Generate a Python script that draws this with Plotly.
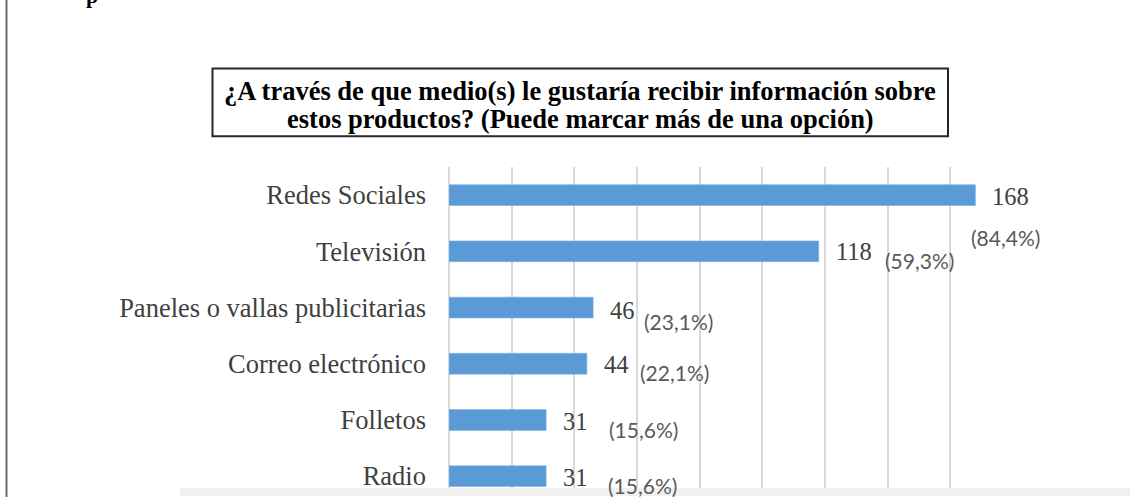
import plotly.graph_objects as go

# ---------------- data ----------------
categories = ["Redes Sociales", "Televisión", "Paneles o vallas publicitarias",
              "Correo electrónico", "Folletos", "Radio"]
values = [168, 118, 46, 44, 31, 31]
percents = [84.4, 59.3, 23.1, 22.1, 15.6, 15.6]
title_lines = ["¿A través de que medio(s) le gustaría recibir información sobre",
               "estos productos? (Puede marcar más de una opción)"]

# label placement tweaks (pixel offsets, style only)
pct_dx = [30, 101, 85, 88, 97, 96]
pct_dy = [-42, -9, -14, -9, -10, -9]
val_dy = [-1, 0, -3, -1, -2, -1]

# ---------------- layout geometry ----------------
W, H = 1130, 497
L, R, T, B = 449, 117, 166.6, 6
pw, ph = W - L - R, H - T - B


def px_x(p):
    return (p - L) / pw


def px_y(p):
    return (H - B - p) / ph


BAR = "#5b9bd5"
GRID = "#d9d9d9"
TXT = "#404040"
SERIF = "Liberation Serif, Times New Roman, serif"

fig = go.Figure(go.Bar(
    x=values, y=categories, orientation="h",
    marker=dict(color=BAR, line=dict(color="#7fb2e0", width=0.6)),
    hoverinfo="skip",
))

annotations = []
for i, (c, v, p) in enumerate(zip(categories, values, percents)):
    annotations.append(dict(
        x=v, y=c, xref="x", yref="y", text=str(v), showarrow=False,
        xanchor="left", yanchor="middle", xshift=15, yshift=val_dy[i],
        font=dict(family=SERIF, size=24.5, color=TXT)))
    annotations.append(dict(
        x=v, y=c, xref="x", yref="y",
        text="(" + f"{p:.1f}".replace(".", ",") + "%)", showarrow=False,
        xanchor="center", yanchor="middle", xshift=pct_dx[i], yshift=pct_dy[i],
        font=dict(family="Lato, sans-serif", size=21, color="#595959")))

# boxed title: two lines of text inside a framed rectangle
for line, cy in zip(title_lines, [90, 118]):
    annotations.append(dict(
        x=px_x(580.25), y=px_y(cy), xref="paper", yref="paper",
        text=line, showarrow=False, xanchor="center", yanchor="middle",
        font=dict(family=SERIF, size=26.5, color="#000000", weight="bold")))

# clipped heading letter at top-left of the page
annotations.append(dict(
    x=px_x(92), y=px_y(8), xref="paper", yref="paper", text="p",
    showarrow=False, xanchor="center", yanchor="bottom",
    font=dict(family=SERIF, size=22, color="#000000", weight="bold")))

shapes = [
    # title frame
    dict(type="rect", xref="paper", yref="paper",
         x0=px_x(212.5), x1=px_x(948), y0=px_y(135.5), y1=px_y(67),
         fillcolor="rgba(0,0,0,0)", line=dict(color="#262626", width=2)),
    # page frame line on the left
    dict(type="line", xref="paper", yref="paper",
         x0=px_x(6.5), x1=px_x(6.5), y0=px_y(H + 5), y1=px_y(-5),
         line=dict(color="#6b6b6b", width=2)),
    # faint watermark band at the bottom
    dict(type="rect", xref="paper", yref="paper", layer="above",
         x0=px_x(180), x1=px_x(W + 5), y0=px_y(H + 2), y1=px_y(491),
         fillcolor="#f0f0f0", line=dict(width=0)),
]

fig.update_layout(
    width=W, height=H,
    margin=dict(l=L, r=R, t=T, b=B, pad=0),
    paper_bgcolor="#ffffff", plot_bgcolor="#ffffff",
    showlegend=False, bargap=0.63,
    annotations=annotations, shapes=shapes,
    xaxis=dict(range=[0, 180], dtick=20, tick0=0, showticklabels=False,
               showgrid=True, gridcolor=GRID, gridwidth=1.5,
               zeroline=True, zerolinecolor=GRID, zerolinewidth=1.5,
               showline=False, ticks="", fixedrange=True),
    yaxis=dict(type="category", categoryorder="array", categoryarray=categories,
               range=[5.21, -0.5], showgrid=False, zeroline=False,
               showline=False, ticks="", ticklabelstandoff=22,
               tickfont=dict(family=SERIF, size=26.5, color=TXT),
               fixedrange=True),
)

fig.write_html("out.html", config={"displayModeBar": False})
